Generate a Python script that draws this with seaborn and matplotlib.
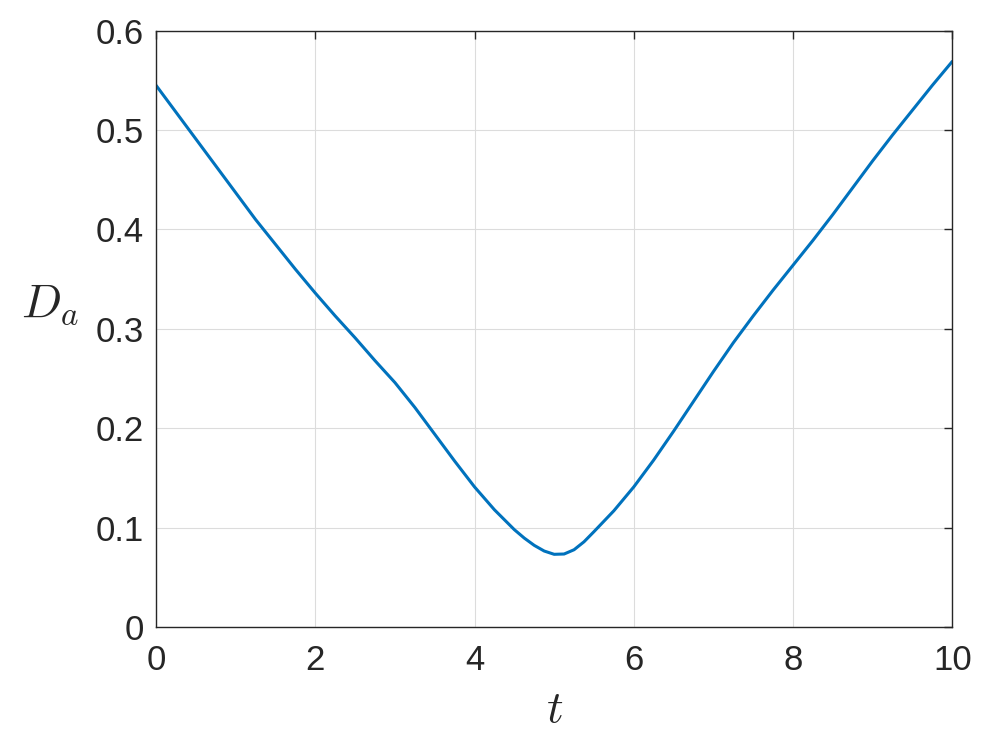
import numpy as np
import matplotlib
matplotlib.use("Agg")
import matplotlib.pyplot as plt
import seaborn as sns

# valores
t = [0.0, 0.25, 0.5, 0.75, 1.0, 1.25, 1.5, 1.75, 2.0, 2.25, 2.5, 2.75,
     3.0, 3.25, 3.5, 3.75, 4.0, 4.25, 4.5, 4.625, 4.75, 4.875, 5.0,
     5.125, 5.25, 5.375, 5.5, 5.75, 6.0, 6.25, 6.5, 6.75, 7.0, 7.25,
     7.5, 7.75, 8.0, 8.25, 8.5, 8.75, 9.0, 9.25, 9.5, 9.75, 10.0]
D_a = [0.545, 0.518, 0.491, 0.464, 0.437, 0.410, 0.385, 0.360, 0.336,
       0.313, 0.291, 0.268, 0.246, 0.221, 0.194, 0.167, 0.141, 0.118,
       0.098, 0.0895, 0.0822, 0.0765, 0.0732, 0.0735, 0.0778, 0.0858,
       0.096, 0.117, 0.141, 0.168, 0.197, 0.227, 0.257, 0.286, 0.313,
       0.339, 0.364, 0.389, 0.415, 0.442, 0.469, 0.495, 0.520, 0.545,
       0.569]
x_ticks = [0, 2, 4, 6, 8, 10]
y_ticks = [0, 0.1, 0.2, 0.3, 0.4, 0.5, 0.6]

sns.set_style("white")
plt.rcParams['font.family'] = ['Liberation Sans', 'DejaVu Sans']
plt.rcParams['mathtext.fontset'] = 'cm'

fig = plt.figure(figsize=(9.94, 7.30), dpi=100)
ax = fig.add_axes([0.157, 0.141, 0.801, 0.817])

sns.lineplot(x=t, y=D_a, ax=ax, color='#0072BD', linewidth=2.2)

ax.set_xlim(0, 10)
ax.set_ylim(0, 0.6)
ax.set_xticks(x_ticks)
ax.set_yticks(y_ticks)
ax.set_xticklabels([str(v) for v in x_ticks])
ax.set_yticklabels(['0'] + [f'{v:.1f}' for v in y_ticks[1:]])
ax.grid(True, color='#dcdcdc', linewidth=0.8)
ax.tick_params(direction='in', length=6, width=1.0, colors='#262626',
               labelsize=25, top=True, right=True)
ax.tick_params(axis='x', pad=12)
ax.tick_params(axis='y', pad=9)
for s in ax.spines.values():
    s.set_visible(True)
    s.set_color('#262626')
    s.set_linewidth(1.0)

ax.set_xlabel('$t$', fontsize=33, color='#262626', labelpad=8)
ax.set_ylabel('$D_a$', fontsize=34, color='#262626', rotation=0,
              va='center', ha='center')
ax.yaxis.set_label_coords(-0.133, 0.54)

fig.savefig('out.png', dpi=100)
